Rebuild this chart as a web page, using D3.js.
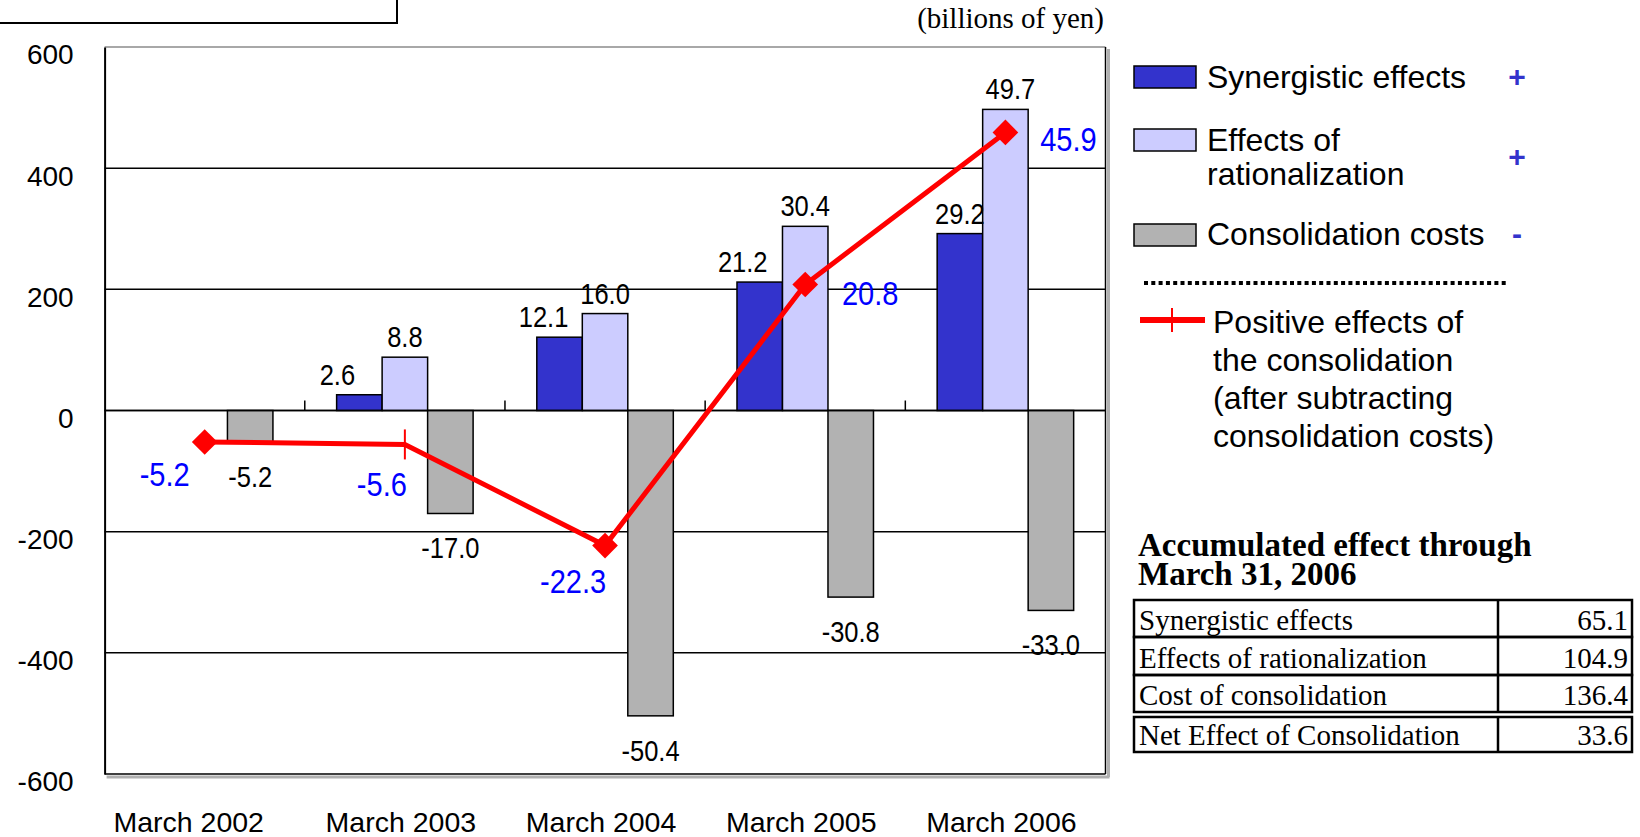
<!DOCTYPE html>
<html>
<head>
<meta charset="utf-8">
<script src="https://cdn.jsdelivr.net/npm/d3@7/dist/d3.min.js"></script>
<style>
body { margin: 0; background: #fff; }
svg text { font-family: "Liberation Sans", Arial, sans-serif; fill: #000; }
svg text.serif { font-family: "Liberation Serif", "Times New Roman", serif; }
</style>
</head>
<body>
<svg id="chart" width="1640" height="837"></svg>
<script>
// data (billions of yen; axis is drawn in 100 millions of yen)
const years = ["March 2002", "March 2003", "March 2004", "March 2005", "March 2006"];
const synergistic = [null, 2.6, 12.1, 21.2, 29.2];
const rationalization = [null, 8.8, 16.0, 30.4, 49.7];
const consolidation = [-5.2, -17.0, -50.4, -30.8, -33.0];
const positiveEffects = [-5.2, -5.6, -22.3, 20.8, 45.9];
const yTicks = [600, 400, 200, 0, -200, -400, -600];
const seriesNames = ["Synergistic effects", "Effects of rationalization", "Consolidation costs"];
const seriesSigns = ["+", "+", "-"];
const lineName = ["Positive effects of", "the consolidation", "(after subtracting", "consolidation costs)"];
const tableTitle = ["Accumulated effect through", "March 31, 2006"];
const tableLabels = ["Synergistic effects", "Effects of rationalization", "Cost of consolidation", "Net Effect of Consolidation"];
const tableValues = ["65.1", "104.9", "136.4", "33.6"];

const unitsPerBillion = 10;
const colors = ["#3333cc", "#ccccff", "#b2b2b2"];
const seriesData = [synergistic, rationalization, consolidation];

const svg = d3.select("#chart");
const plot = { left: 104.6, right: 1105.5, top: 47, bottom: 774 };

const x = d3.scaleBand().domain(years).range([plot.left, plot.right]).padding(0);
const inner = d3.scaleBand().domain(d3.range(3)).range([0, x.bandwidth()])
    .paddingInner(0).paddingOuter(0.7);
const y = d3.scaleLinear().domain([-600, 600]).range([plot.bottom, plot.top]);

// top-left box fragment
svg.append("path")
    .attr("d", "M0,23H397V0")
    .attr("fill", "none").attr("stroke", "#000").attr("stroke-width", 2);

svg.append("text").attr("class", "serif")
    .attr("x", 1104).attr("y", 28)
    .attr("text-anchor", "end").style("font-size", "29px")
    .text("(billions of yen)");

// gridlines
svg.append("g").selectAll("line")
    .data(yTicks.filter(d => d !== 600 && d !== -600))
    .enter().append("line")
    .attr("x1", plot.left).attr("x2", plot.right)
    .attr("y1", d => y(d)).attr("y2", d => y(d))
    .attr("stroke", "#000").attr("stroke-width", 1.5);

// frame
svg.append("line").attr("x1", plot.left).attr("x2", plot.right)
    .attr("y1", plot.top).attr("y2", plot.top)
    .attr("stroke", "#a8a8a8").attr("stroke-width", 2);
svg.append("line").attr("x1", plot.right + 3).attr("x2", plot.right + 3)
    .attr("y1", plot.top + 2).attr("y2", plot.bottom + 3)
    .attr("stroke", "#b0b0b0").attr("stroke-width", 3);
svg.append("line").attr("x1", plot.left + 2).attr("x2", plot.right + 4)
    .attr("y1", plot.bottom + 3).attr("y2", plot.bottom + 3)
    .attr("stroke", "#b0b0b0").attr("stroke-width", 3);
svg.append("line").attr("x1", plot.right).attr("x2", plot.right)
    .attr("y1", plot.top).attr("y2", plot.bottom)
    .attr("stroke", "#000").attr("stroke-width", 1.5);
svg.append("line").attr("x1", plot.left).attr("x2", plot.right)
    .attr("y1", plot.bottom).attr("y2", plot.bottom)
    .attr("stroke", "#000").attr("stroke-width", 1.5);

// y axis
const yAxis = svg.append("g")
    .attr("transform", `translate(${plot.left},0)`)
    .call(d3.axisLeft(y).tickValues(yTicks).tickSize(0).tickPadding(31).tickFormat(d => d));
yAxis.select(".domain").attr("stroke", "#000").attr("stroke-width", 2);
yAxis.selectAll("text").attr("y", 8).style("font-size", "28px").attr("fill", "#000");

// x axis
const xLabelNudge = [-16, -4, -4, -4, -4];
const xAxis = svg.append("g")
    .attr("transform", `translate(0,${plot.bottom})`)
    .call(d3.axisBottom(x).tickSize(0).tickPadding(38));
xAxis.select(".domain").remove();
xAxis.selectAll("text").style("font-size", "28.5px").attr("fill", "#000")
    .attr("x", (d, i) => xLabelNudge[i]);

// category ticks on the zero line
svg.append("g").selectAll("line")
    .data(years.slice(1))
    .enter().append("line")
    .attr("x1", d => x(d)).attr("x2", d => x(d))
    .attr("y1", y(0)).attr("y2", y(0) - 10)
    .attr("stroke", "#000").attr("stroke-width", 1.5);

// bars
const barRows = [];
seriesData.forEach((arr, s) => arr.forEach((v, i) => {
    if (v !== null) barRows.push({ s, i, v });
}));

svg.append("g").selectAll("rect")
    .data(barRows)
    .enter().append("rect")
    .attr("x", d => x(years[d.i]) + inner(d.s))
    .attr("width", inner.bandwidth())
    .attr("y", d => y(Math.max(0, d.v * unitsPerBillion)))
    .attr("height", d => Math.abs(y(d.v * unitsPerBillion) - y(0)))
    .attr("fill", d => colors[d.s])
    .attr("stroke", "#000").attr("stroke-width", 1.5);

svg.append("line").attr("x1", plot.left).attr("x2", plot.right)
    .attr("y1", y(0)).attr("y2", y(0))
    .attr("stroke", "#000").attr("stroke-width", 1.5);

// bar labels (small nudges to keep them apart)
const barLabelNudge = [[0, -22, -16, -17, 0], [0, 0, 0, 0, 5], [0, 0, 0, 0, 0]];
svg.append("g").selectAll("text")
    .data(barRows)
    .enter().append("text")
    .attr("text-anchor", "middle")
    .style("font-size", "29px")
    .attr("transform", d => {
        const cx = x(years[d.i]) + inner(d.s) + inner.bandwidth() / 2 + barLabelNudge[d.s][d.i];
        const by = d.v >= 0 ? y(d.v * unitsPerBillion) - 10 : y(d.v * unitsPerBillion) + 45;
        return `translate(${cx},${by}) scale(0.88,1)`;
    })
    .text(d => d.v.toFixed(1));

// line
const cx = (d, i) => x(years[i]) + x.bandwidth() / 2;
const line = d3.line().x(cx).y(d => y(d * unitsPerBillion));
svg.append("path")
    .datum(positiveEffects)
    .attr("d", line)
    .attr("fill", "none").attr("stroke", "#ff0000").attr("stroke-width", 5)
    .attr("stroke-linejoin", "miter");

const plainMarkerIndex = 1;
svg.append("g").selectAll("path")
    .data(positiveEffects.map((v, i) => ({ v, i })).filter(d => d.i !== plainMarkerIndex))
    .enter().append("path")
    .attr("d", d3.symbol(d3.symbolSquare, 330))
    .attr("transform", d => `translate(${cx(d.v, d.i)},${y(d.v * unitsPerBillion)}) rotate(45)`)
    .attr("fill", "#ff0000");
svg.append("line")
    .attr("x1", cx(null, plainMarkerIndex)).attr("x2", cx(null, plainMarkerIndex))
    .attr("y1", y(positiveEffects[plainMarkerIndex] * unitsPerBillion) - 15)
    .attr("y2", y(positiveEffects[plainMarkerIndex] * unitsPerBillion) + 15)
    .attr("stroke", "#ff0000").attr("stroke-width", 2);

const lineLabelNudge = [[-40, 32], [-23, 40], [-32, 35], [65, 9], [63, 7]];
svg.append("g").selectAll("text")
    .data(positiveEffects)
    .enter().append("text")
    .attr("text-anchor", "middle")
    .style("font-size", "33px").style("fill", "#0000ff")
    .attr("transform", (d, i) =>
        `translate(${cx(d, i) + lineLabelNudge[i][0]},${y(d * unitsPerBillion) + lineLabelNudge[i][1] + 12}) scale(0.88,1)`)
    .text(d => d.toFixed(1));

// legend
const legendRows = [
    { box: 66, lines: [77] },
    { box: 129, lines: [140, 174] },
    { box: 224, lines: [234] }
];
const legend = svg.append("g");
legendRows.forEach((r, s) => {
    legend.append("rect")
        .attr("x", 1134).attr("y", r.box).attr("width", 62).attr("height", 22)
        .attr("fill", colors[s]).attr("stroke", "#000").attr("stroke-width", 1.5);
    const words = s === 1 ? ["Effects of", "rationalization"] : [seriesNames[s]];
    words.forEach((w, k) => {
        legend.append("text").attr("x", 1207).attr("y", r.lines[k] + 11)
            .style("font-size", "32px").text(w);
    });
    const signY = d3.mean(r.lines);
    legend.append("text").attr("x", 1517).attr("y", signY + 10)
        .attr("text-anchor", "middle")
        .style("font-size", "30px").style("font-weight", "bold").style("fill", "#3333cc")
        .text(seriesSigns[s]);
});

legend.append("line")
    .attr("x1", 1144).attr("x2", 1509).attr("y1", 283).attr("y2", 283)
    .attr("stroke", "#000").attr("stroke-width", 4).attr("stroke-dasharray", "4,3.3");

legend.append("line")
    .attr("x1", 1140).attr("x2", 1205).attr("y1", 320).attr("y2", 320)
    .attr("stroke", "#ff0000").attr("stroke-width", 6);
legend.append("line")
    .attr("x1", 1172).attr("x2", 1172).attr("y1", 308).attr("y2", 332)
    .attr("stroke", "#ff0000").attr("stroke-width", 2);
lineName.forEach((t, k) => {
    legend.append("text").attr("x", 1213).attr("y", 333 + k * 38)
        .style("font-size", "32px").text(t);
});

// accumulated table
const table = svg.append("g");
tableTitle.forEach((t, k) => {
    table.append("text").attr("class", "serif")
        .attr("x", 1138).attr("y", 556 + k * 29)
        .style("font-size", "33px").style("font-weight", "bold")
        .text(t);
});

const rowTops = [600, 637, 675, 717];
const rowBottoms = [637, 675, 712, 752];
const tLeft = 1134, tRight = 1632, tDiv = 1498;
rowTops.forEach((top, k) => {
    table.append("rect")
        .attr("x", tLeft).attr("y", top)
        .attr("width", tRight - tLeft).attr("height", rowBottoms[k] - top)
        .attr("fill", "none").attr("stroke", "#000").attr("stroke-width", 2.5);
    table.append("line")
        .attr("x1", tDiv).attr("x2", tDiv).attr("y1", top).attr("y2", rowBottoms[k])
        .attr("stroke", "#000").attr("stroke-width", 2.5);
    table.append("text").attr("class", "serif")
        .attr("x", tLeft + 5).attr("y", rowBottoms[k] - 7)
        .style("font-size", "29px").text(tableLabels[k]);
    table.append("text").attr("class", "serif")
        .attr("x", tRight - 4).attr("y", rowBottoms[k] - 7)
        .attr("text-anchor", "end")
        .style("font-size", "29px").text(tableValues[k]);
});
</script>
</body>
</html>
